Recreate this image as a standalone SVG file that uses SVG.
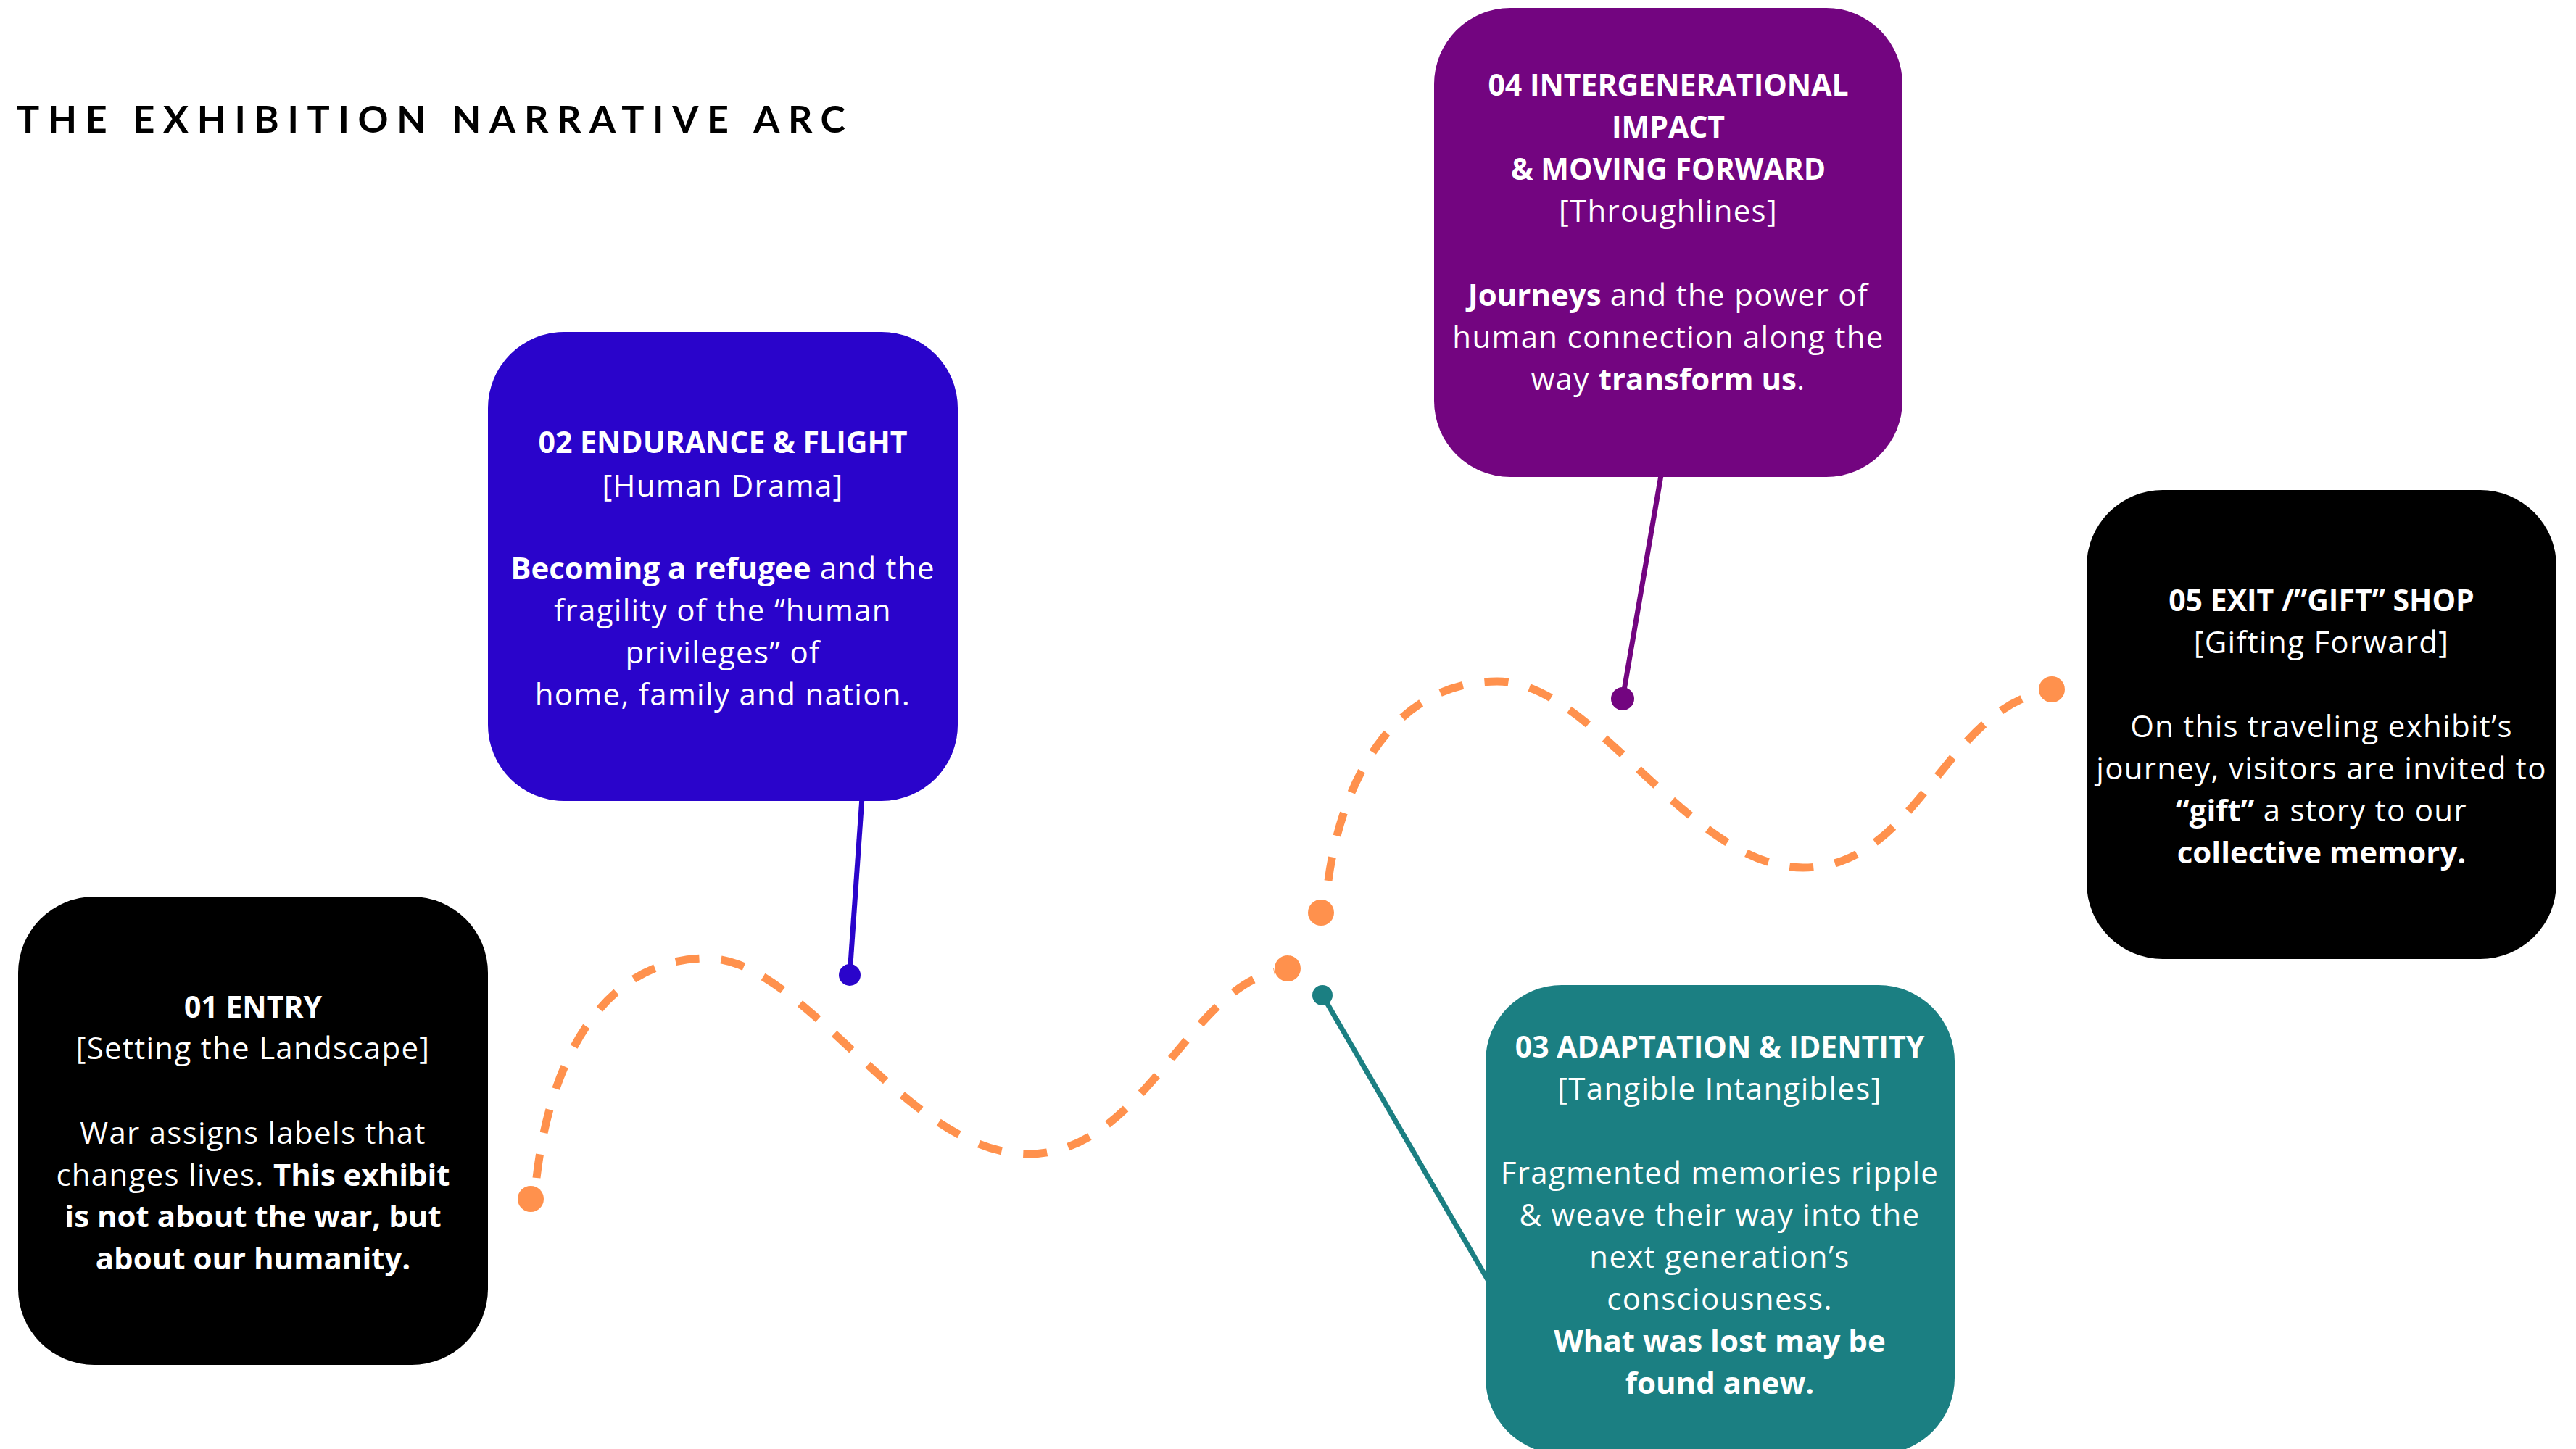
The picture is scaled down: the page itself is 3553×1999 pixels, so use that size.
<svg xmlns="http://www.w3.org/2000/svg" width="3553" height="1999" viewBox="0 0 3553 1999">
<style>
.t{font-family:"Open Sans","Liberation Sans",sans-serif;font-size:42px;fill:#fff;text-anchor:middle;font-weight:400;letter-spacing:1.3px}
.b{font-weight:700;letter-spacing:0}
.h{font-family:"Open Sans","Liberation Sans",sans-serif;font-size:41px;fill:#fff;text-anchor:middle;font-weight:700}
.title{font-family:Lato,"Liberation Sans",sans-serif;font-size:52px;font-weight:700;fill:#000}
.arc{fill:none;stroke:#FF914D;stroke-width:11;stroke-dasharray:33 30}
.dot{fill:#FF914D}
</style>
<rect width="3553" height="1999" fill="#fff"/>
<text class="title" x="23" y="183" textLength="1143" lengthAdjust="spacing">THE EXHIBITION NARRATIVE ARC</text>
<g id="connectors">
<path class="arc" d="M740 1625 C760 1450 840 1322 975 1322 C1110 1322 1250 1592 1418 1592 C1575 1592 1640 1365 1758 1341"/>
<path class="arc" d="M1832 1215 C1850 1080 1920 940 2065 940 C2200 940 2330 1197 2487 1197 C2640 1197 2680 990 2812 956"/>
<circle class="dot" cx="732" cy="1654" r="18"/>
<circle class="dot" cx="1776" cy="1336" r="18"/>
<circle class="dot" cx="1822" cy="1259" r="18"/>
<circle class="dot" cx="2830" cy="951" r="18"/>
<line x1="1189" y1="1100" x2="1172" y2="1345" stroke="#2A04CB" stroke-width="7"/>
<circle cx="1172" cy="1345" r="15" fill="#2A04CB"/>
<line x1="2292" y1="650" x2="2238" y2="964" stroke="#730580" stroke-width="7"/>
<circle cx="2238" cy="964" r="16" fill="#730580"/>
<line x1="1824" y1="1373" x2="2072" y2="1800" stroke="#1B7F82" stroke-width="7"/>
<circle cx="1824" cy="1373" r="14" fill="#1B7F82"/>
</g>
<g id="node01">
<rect x="25" y="1237" width="648" height="646" rx="105" fill="#000"/>
<text class="h" x="349" y="1404">01 ENTRY</text>
<text class="t" x="349" y="1461">[Setting the Landscape]</text>
<text class="t" x="349" y="1578">War assigns labels that</text>
<text class="t" x="349" y="1636">changes lives. <tspan class="b">This exhibit</tspan></text>
<text class="t b" x="349" y="1693">is not about the war, but</text>
<text class="t b" x="349" y="1751">about our humanity.</text>
</g>
<g id="node02">
<rect x="673" y="458" width="648" height="647" rx="105" fill="#2A04CB"/>
<text class="h" x="997" y="625">02 ENDURANCE &amp; FLIGHT</text>
<text class="t" x="997" y="685">[Human Drama]</text>
<text class="t" x="997" y="799"><tspan class="b">Becoming a refugee</tspan> and the</text>
<text class="t" x="997" y="857">fragility of the “human</text>
<text class="t" x="997" y="915">privileges” of</text>
<text class="t" x="997" y="973">home, family and nation.</text>
</g>
<g id="node03">
<rect x="2049" y="1359" width="647" height="647" rx="105" fill="#1B7F82"/>
<text class="h" x="2372" y="1459">03 ADAPTATION &amp; IDENTITY</text>
<text class="t" x="2372" y="1517">[Tangible Intangibles]</text>
<text class="t" x="2372" y="1633">Fragmented memories ripple</text>
<text class="t" x="2372" y="1691">&amp; weave their way into the</text>
<text class="t" x="2372" y="1749">next generation’s</text>
<text class="t" x="2372" y="1807">consciousness.</text>
<text class="t b" x="2372" y="1865">What was lost may be</text>
<text class="t b" x="2372" y="1923">found anew.</text>
</g>
<g id="node04">
<rect x="1978" y="11" width="646" height="647" rx="105" fill="#730580"/>
<text class="h" x="2301" y="132">04 INTERGENERATIONAL</text>
<text class="h" x="2301" y="190">IMPACT</text>
<text class="h" x="2301" y="248">&amp; MOVING FORWARD</text>
<text class="t" x="2301" y="306">[Throughlines]</text>
<text class="t" x="2301" y="422"><tspan class="b">Journeys</tspan> and the power of</text>
<text class="t" x="2301" y="480">human connection along the</text>
<text class="t" x="2301" y="538">way <tspan class="b">transform us</tspan>.</text>
</g>
<g id="node05">
<rect x="2878" y="676" width="648" height="647" rx="105" fill="#000"/>
<text class="h" x="3202" y="843">05 EXIT /”GIFT” SHOP</text>
<text class="t" x="3202" y="901">[Gifting Forward]</text>
<text class="t" x="3202" y="1017">On this traveling exhibit’s</text>
<text class="t" x="3202" y="1075">journey, visitors are invited to</text>
<text class="t" x="3202" y="1133"><tspan class="b">“gift”</tspan> a story to our</text>
<text class="t b" x="3202" y="1191">collective memory.</text>
</g>
</svg>
